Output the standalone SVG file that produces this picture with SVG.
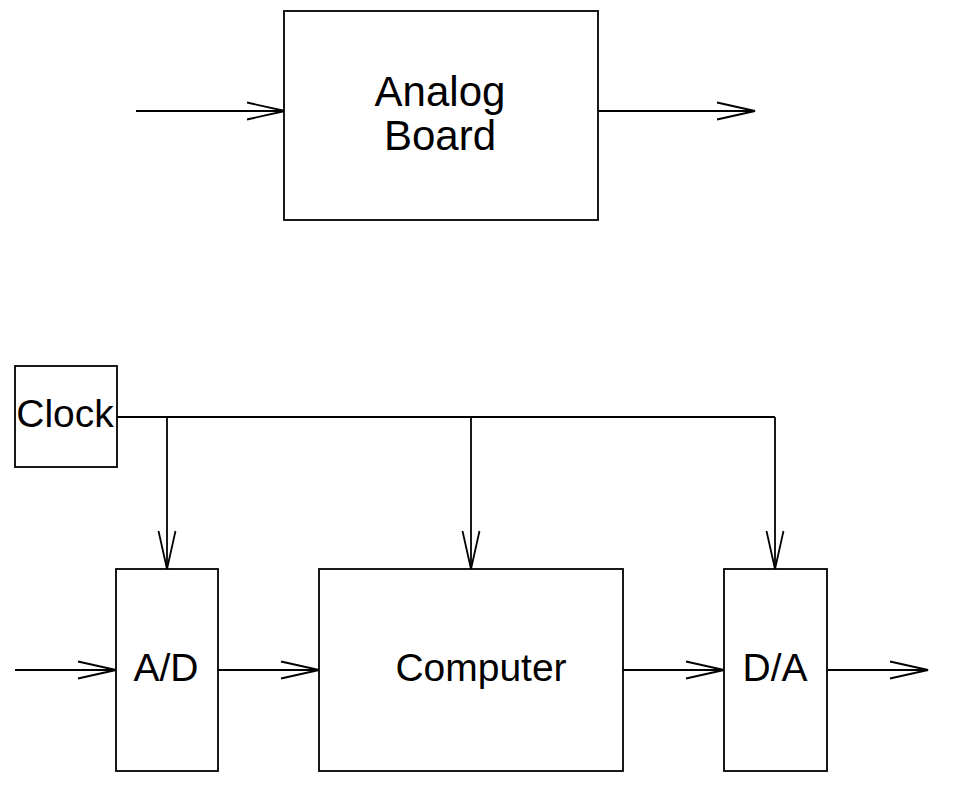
<svg xmlns="http://www.w3.org/2000/svg" width="958" height="808" viewBox="0 0 958 808">
<defs>
<marker id="arr" markerUnits="userSpaceOnUse" markerWidth="50" markerHeight="30" viewBox="-45 -15 50 30" refX="0" refY="0" orient="auto" overflow="visible">
<path d="M-38,-8.5 L0,0 L-38,8.5" fill="none" stroke="#000" stroke-width="1.8"/>
</marker>
</defs>
<style>
.box{fill:#fff;stroke:#000;stroke-width:1.8}
.ln{fill:none;stroke:#000;stroke-width:1.8}
.t{font-family:"Liberation Sans",Arial,sans-serif;fill:#000;text-anchor:middle}
.big{font-size:42px}
.sm{font-size:39px}
</style>
<rect width="958" height="808" fill="#fff"/>
<g id="connectors">
<path class="ln" d="M136,111 L285,111" marker-end="url(#arr)"/>
<path class="ln" d="M598,111 L755,111" marker-end="url(#arr)"/>
<path class="ln" d="M117,417 L775,417"/>
<path class="ln" d="M167,417 L167,569" marker-end="url(#arr)"/>
<path class="ln" d="M471,417 L471,569" marker-end="url(#arr)"/>
<path class="ln" d="M775,417 L775,569" marker-end="url(#arr)"/>
<path class="ln" d="M15,670 L116,670" marker-end="url(#arr)"/>
<path class="ln" d="M218,670 L319,670" marker-end="url(#arr)"/>
<path class="ln" d="M623,670 L724,670" marker-end="url(#arr)"/>
<path class="ln" d="M827,670 L928,670" marker-end="url(#arr)"/>
</g>
<g id="analog-board">
<rect class="box" x="284" y="11" width="314" height="209"/>
<text class="t big" x="440" y="106">Analog</text>
<text class="t big" x="440" y="150">Board</text>
</g>
<g id="clock">
<rect class="box" x="15" y="366" width="102" height="101"/>
<text class="t sm" x="65" y="427">Clock</text>
</g>
<g id="ad">
<rect class="box" x="116" y="569" width="102" height="202"/>
<text class="t sm" x="166" y="681">A/D</text>
</g>
<g id="computer">
<rect class="box" x="319" y="569" width="304" height="202"/>
<text class="t sm" x="481" y="681">Computer</text>
</g>
<g id="da">
<rect class="box" x="724" y="569" width="103" height="202"/>
<text class="t sm" x="775" y="681">D/A</text>
</g>
</svg>
